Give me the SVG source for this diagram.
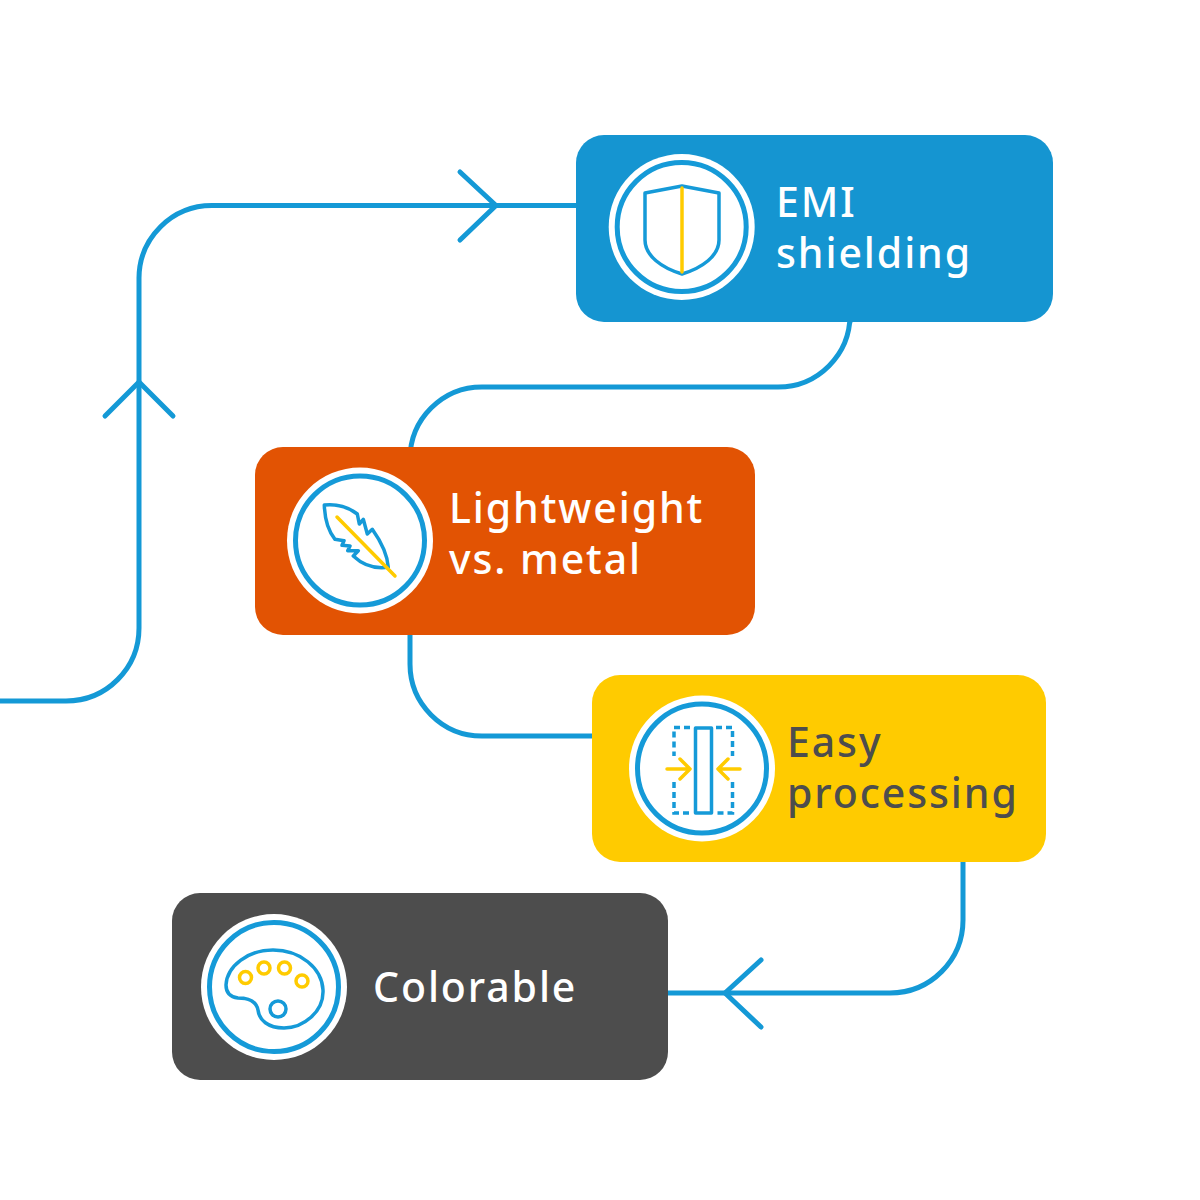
<svg xmlns="http://www.w3.org/2000/svg" width="1200" height="1200" viewBox="0 0 1200 1200">
<style>
.c{fill:none;stroke:#1499d6;stroke-width:5;stroke-linecap:round;stroke-linejoin:round}
.i{fill:none;stroke:#159ad8;stroke-width:3.500;stroke-linejoin:round;stroke-linecap:round}
.d{fill:none;stroke:#159ad8;stroke-width:3.500;stroke-dasharray:6 4}
.y{fill:none;stroke:#ffcb00;stroke-width:3.500;stroke-linecap:round;stroke-linejoin:round}
.o{fill:#fff}
.r{fill:#fff;stroke:#159ad8;stroke-width:5}
text{font-family:"Noto Sans","Open Sans",sans-serif;font-size:41px;font-weight:500;letter-spacing:1.900px;fill:#fff}
</style>
<rect width="1200" height="1200" fill="#fff"/>
<g id="connectors">
<path class="c" d="M0 701H66A73 73 0 0 0 139 628V278A73 73 0 0 1 212 205.500H576"/>
<path class="c" d="M105 416L139 382L173 416"/>
<path class="c" d="M460 172L496 205.500L460 240"/>
<path class="c" d="M850 322V315A72 72 0 0 1 778 387H482A72 72 0 0 0 410 459"/>
<path class="c" d="M410 625V664A72 72 0 0 0 482 736H600"/>
<path class="c" d="M963 852V920A73 73 0 0 1 890 993H660"/>
<path class="c" d="M761 960L725 993L761 1027"/>
</g>
<g id="node-emi">
<rect x="576" y="135" width="477" height="187" rx="28" fill="#1595d1"/>
<circle class="o" cx="681.700" cy="227" r="73"/>
<circle class="r" cx="681.700" cy="227" r="64.500"/>
<path class="i" d="M645 193L682 186L719 193V240C719 256 702 268 682 274C662 268 645 256 645 240Z"/>
<path class="y" d="M682 188V272"/>
<text x="776" y="217">EMI</text>
<text x="776" y="268">shielding</text>
</g>
<g id="node-lightweight">
<rect x="255" y="447" width="500" height="188" rx="28" fill="#e25303"/>
<circle class="o" cx="360" cy="540.500" r="73"/>
<circle class="r" cx="360" cy="540.500" r="64.500"/>
<path class="i" d="M324.300 505Q343 503 357.300 514L359.300 524L363.300 519.300L367.300 534L372.300 529.300Q387 550 388.300 567.300Q368 570 353.300 556L358.300 550.700L347.700 550.700L350 546L342 545.300L344 540.700L335 539.300Q325 527 324.300 505Z"/>
<path class="y" d="M337 517L395 576"/>
<text x="449" y="523">Lightweight</text>
<text x="449" y="574">vs. metal</text>
</g>
<g id="node-easy">
<rect x="592" y="675" width="454" height="187" rx="28" fill="#ffcb00"/>
<circle class="o" cx="702" cy="768.500" r="73"/>
<circle class="r" cx="702" cy="768.500" r="64.500"/>
<rect class="i" x="695.500" y="728" width="16" height="85"/>
<path class="d" d="M690 727.500H674V756M674 782V813H690M716 727.500H732.500V756M732.500 782V813H716"/>
<path class="y" d="M667 769H690M680 759L690 769L680 779M740 769H718M728 759L718 769L728 779"/>
<text x="787" y="757" style="fill:#4d4d4d">Easy</text>
<text x="787" y="808" style="fill:#4d4d4d">processing</text>
</g>
<g id="node-colorable">
<rect x="172" y="893" width="496" height="187" rx="28" fill="#4d4d4d"/>
<circle class="o" cx="274" cy="987" r="73"/>
<circle class="r" cx="274" cy="987" r="64.500"/>
<path class="i" d="M273 950C300 950 322 968 323 990C324 1012 303 1028 284 1028C268 1028 259 1020 258 1010C256 1000 246 998 238 998C230 997 226 992 226 985C227 966 248 950 273 950Z"/>
<circle class="i" cx="278" cy="1009" r="8"/>
<circle class="y" cx="245.500" cy="977.500" r="6"/>
<circle class="y" cx="264" cy="968" r="6"/>
<circle class="y" cx="284.500" cy="968" r="6"/>
<circle class="y" cx="302" cy="981" r="6"/>
<text x="373" y="1002">Colorable</text>
</g>
</svg>
